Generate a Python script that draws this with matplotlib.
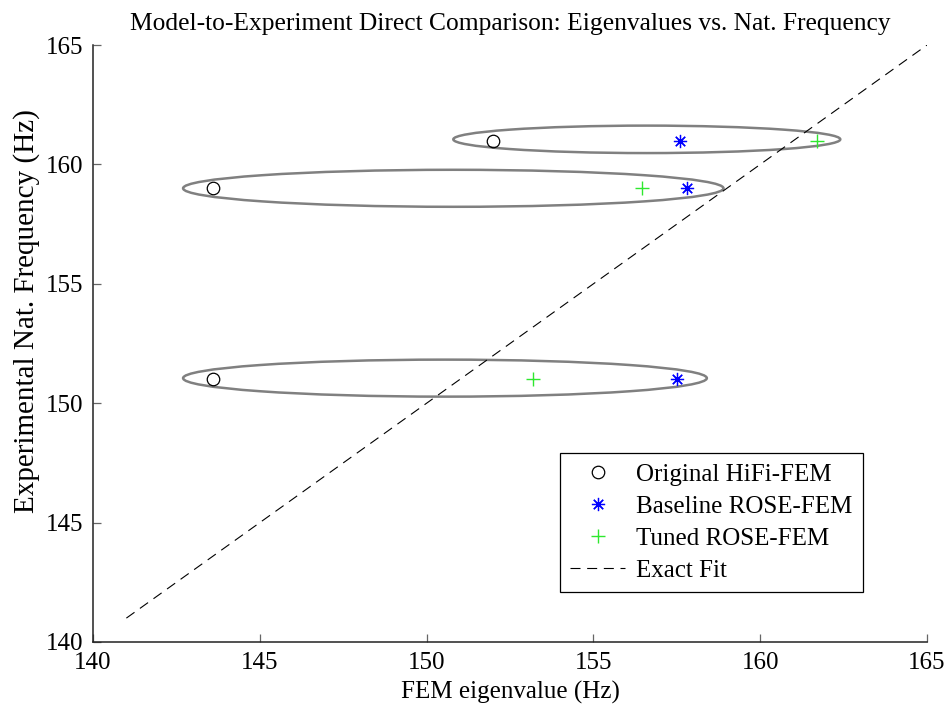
import matplotlib.pyplot as plt
from matplotlib.patches import Ellipse
import numpy as np

plt.rcParams['font.family'] = ['Liberation Serif', 'DejaVu Serif']

# measured natural frequencies (Hz)
exp_freq = [161.0, 159.0, 151.0]
# FEM eigenvalues (Hz) per model
hifi = [152.0, 143.6, 143.6]
baseline = [157.6, 157.8, 157.5]
tuned = [161.7, 156.45, 153.2]

# grouping ellipses: centre x, centre y, width, height
ell_cx = [156.6, 150.8, 150.55]
ell_cy = [161.05, 159.0, 151.05]
ell_w = [11.6, 16.2, 15.7]
ell_h = [1.15, 1.55, 1.55]

fit = [141, 165]

fig = plt.figure(figsize=(9.51, 7.09), dpi=100)
ax = fig.add_axes([0.0978, 0.0945, 0.877, 0.842])

for cx, cy, w, h in zip(ell_cx, ell_cy, ell_w, ell_h):
    ax.add_patch(Ellipse((cx, cy), w, h, fill=False, edgecolor='#808080', linewidth=1.8))

ax.plot(hifi, exp_freq, linestyle='none', marker='o', markersize=9,
        markerfacecolor='none', markeredgecolor='black', markeredgewidth=0.9,
        label='Original HiFi-FEM')
ax.plot(baseline, exp_freq, linestyle='none', marker=(8, 2, 0), markersize=9.5,
        color='blue', markeredgewidth=0.9, label='Baseline ROSE-FEM')
ax.plot(tuned, exp_freq, linestyle='none', marker='+', markersize=10,
        color='#2ee82e', markeredgewidth=1.0, label='Tuned ROSE-FEM')
ax.plot(fit, fit, color='black', linestyle=(0, (9, 6)), linewidth=0.8, label='Exact Fit')

ax.set_xlim(140, 165)
ax.set_ylim(140, 165)
ax.set_xticks(np.arange(140, 166, 5))
ax.set_yticks(np.arange(140, 166, 5))
ax.spines['top'].set_visible(False)
ax.spines['right'].set_visible(False)
for s in ['left', 'bottom']:
    ax.spines[s].set_linewidth(1.1)
    ax.spines[s].set_color('#222222')
ax.tick_params(axis='both', which='both', direction='in', length=6, width=0.9,
               color='#666666', labelsize=18)
ax.tick_params(axis='y', pad=7)
ax.tick_params(axis='x', pad=7)

ax.set_title('Model-to-Experiment Direct Comparison: Eigenvalues vs. Nat. Frequency',
             fontsize=18.4, pad=11)
ax.set_xlabel('FEM eigenvalue (Hz)', fontsize=18, labelpad=5)
ax.set_ylabel('Experimental Nat. Frequency (Hz)', fontsize=21)
ax.yaxis.set_label_coords(-0.064, 0.554)

leg = ax.legend(loc='lower right', bbox_to_anchor=(0.923, 0.084), borderaxespad=0,
                fontsize=18, frameon=True, fancybox=False, edgecolor='black',
                framealpha=1, handlelength=2.2, borderpad=0.4, labelspacing=0.38,
                handletextpad=0.45)
leg.get_frame().set_linewidth(0.9)

fig.savefig('out.png', dpi=100)
